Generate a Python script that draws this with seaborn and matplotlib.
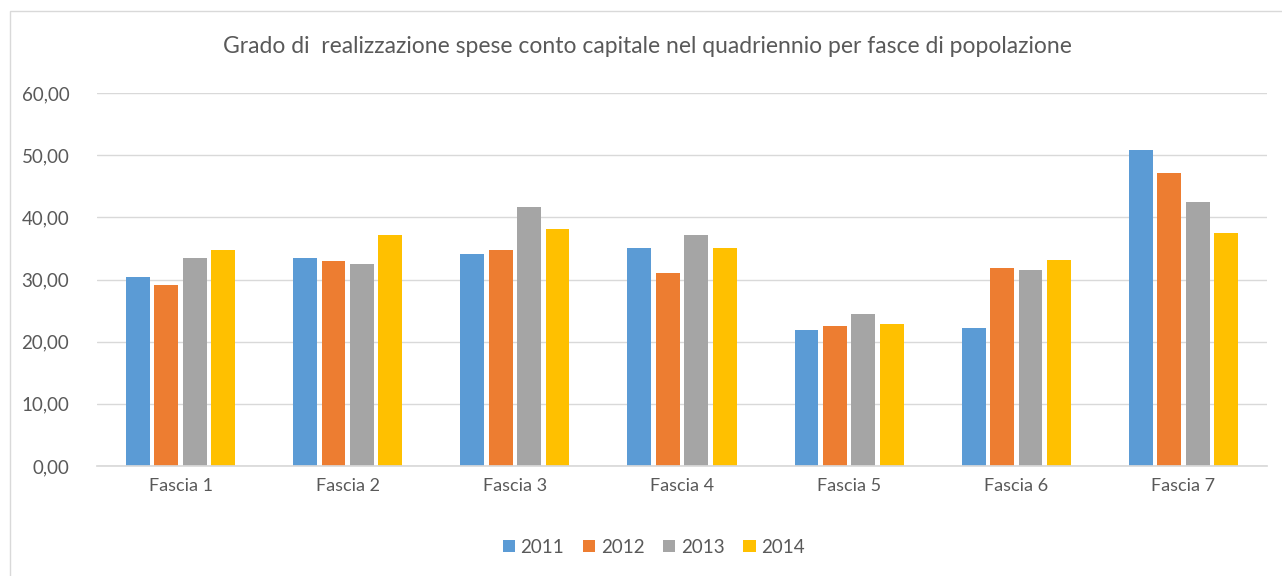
import pandas as pd
import matplotlib
matplotlib.use("Agg")
import matplotlib.pyplot as plt
import seaborn as sns
from matplotlib.patches import Rectangle

# Values
categories = ["Fascia 1", "Fascia 2", "Fascia 3", "Fascia 4", "Fascia 5", "Fascia 6", "Fascia 7"]
years = ["2011", "2012", "2013", "2014"]
v2011 = [30.4, 33.5, 34.1, 35.0, 21.9, 22.2, 50.9]
v2012 = [29.1, 32.9, 34.7, 31.0, 22.6, 31.9, 47.1]
v2013 = [33.5, 32.5, 41.6, 37.2, 24.5, 31.6, 42.5]
v2014 = [34.7, 37.1, 38.1, 35.0, 22.9, 33.2, 37.5]
yticks = [0, 10, 20, 30, 40, 50, 60]

colors = ["#5B9BD5", "#ED7D31", "#A5A5A5", "#FFC000"]
TEXT = "#595959"

rows = []
for year, vals in zip(years, [v2011, v2012, v2013, v2014]):
    for cat, v in zip(categories, vals):
        rows.append({"Fascia": cat, "Anno": year, "Valore": v})
df = pd.DataFrame(rows)

sns.set_theme(style="white")
plt.rcParams["font.family"] = ["Lato", "DejaVu Sans"]

fig = plt.figure(figsize=(12.82, 5.76), dpi=100)
ax = fig.add_axes([0.0757, 0.191, 0.9126, 0.6475])

sns.barplot(data=df, x="Fascia", y="Valore", hue="Anno", palette=colors,
            saturation=1, width=0.68, gap=0.16, linewidth=0, ax=ax, legend=True)

ax.set_ylim(0, 60)
ax.set_xlim(-0.5, len(categories) - 0.5)
ax.set_yticks(yticks)
ax.set_yticklabels([f"{t:.2f}".replace(".", ",") for t in yticks])
ax.yaxis.grid(True, color="#D9D9D9", linewidth=1)
ax.set_axisbelow(True)
ax.set_xlabel("")
ax.set_ylabel("")
for s in ["top", "right", "left"]:
    ax.spines[s].set_visible(False)
ax.spines["bottom"].set_color("#D9D9D9")
ax.tick_params(axis="both", length=0, colors=TEXT)
ax.tick_params(axis="y", pad=20, labelsize=13.5)
ax.tick_params(axis="x", pad=9, labelsize=13)

handles, labels = ax.get_legend_handles_labels()
ax.get_legend().remove()
fig.legend(handles, labels, loc="center", bbox_to_anchor=(0.51, 0.05), ncol=4,
           frameon=False, fontsize=13.5, labelcolor=TEXT, handlelength=0.65,
           handleheight=0.65, handletextpad=0.3, columnspacing=1.0)

fig.text(0.505, 0.92, "Grado di  realizzazione spese conto capitale nel quadriennio per fasce di popolazione",
         ha="center", va="center", fontsize=16.5, color=TEXT)

# outer chart frame
fig.patches.append(Rectangle((10 / 1282, -0.01), 1.0, 1 - 11 / 576 + 0.01,
                             transform=fig.transFigure, fill=False,
                             edgecolor="#D9D9D9", linewidth=1))

fig.savefig("out.png", dpi=100)
plt.close(fig)
